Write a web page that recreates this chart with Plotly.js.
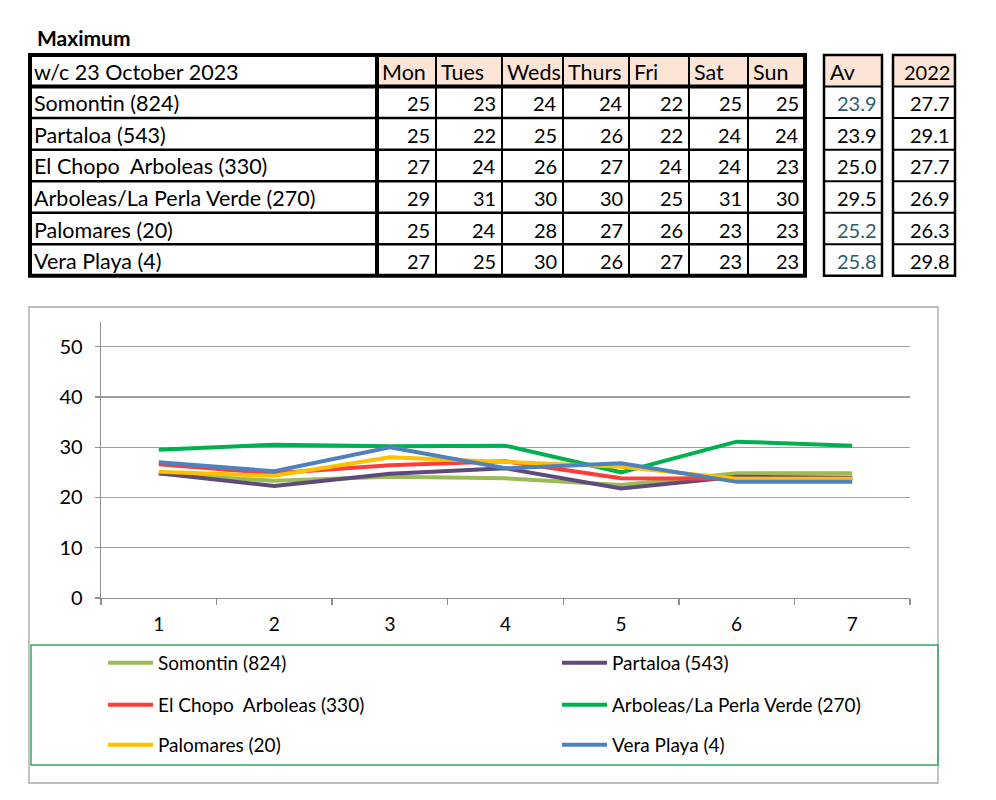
<!DOCTYPE html>
<html>
<head>
<meta charset="utf-8">
<script src="https://cdn.plot.ly/plotly-3.0.1.min.js"></script>
<style>html,body{margin:0;padding:0;background:#fff}#chart{width:996px;height:800px}</style>
</head>
<body>
<div id="chart"></div>
<script>
// ---------------- data ----------------
const tableTitle = 'Maximum';
const weekLabel = 'w/c 23 October 2023';
const days = ['Mon', 'Tues', 'Weds', 'Thurs', 'Fri', 'Sat', 'Sun'];
const stations = ['Somontin (824)', 'Partaloa (543)', 'El Chopo\u00A0 Arboleas (330)',
  'Arboleas/La Perla Verde (270)', 'Palomares (20)', 'Vera Playa (4)'];
const somontinDaily = [25, 23, 24, 24, 22, 25, 25];
const partaloaDaily = [25, 22, 25, 26, 22, 24, 24];
const elChopoDaily = [27, 24, 26, 27, 24, 24, 23];
const arboleasDaily = [29, 31, 30, 30, 25, 31, 30];
const palomaresDaily = [25, 24, 28, 27, 26, 23, 23];
const veraPlayaDaily = [27, 25, 30, 26, 27, 23, 23];
const avHeader = 'Av';
const averages = [23.9, 23.9, 25.0, 29.5, 25.2, 25.8];
const lastYearHeader = '2022';
const lastYear = [27.7, 29.1, 27.7, 26.9, 26.3, 29.8];

const chartDays = [1, 2, 3, 4, 5, 6, 7];
const yTicks = [0, 10, 20, 30, 40, 50];
const somontinLine = [24.7, 23.3, 24.1, 23.8, 22.5, 24.8, 24.8];
const partaloaLine = [24.8, 22.3, 24.7, 25.8, 21.8, 24.1, 23.9];
const elChopoLine = [26.6, 24.8, 26.4, 27.2, 23.8, 23.8, 23.7];
const arboleasLine = [29.5, 30.5, 30.2, 30.3, 25.0, 31.1, 30.3];
const palomaresLine = [25.1, 24.3, 28.0, 27.1, 26.1, 23.7, 23.7];
const veraPlayaLine = [27.0, 25.2, 30.0, 25.8, 26.8, 23.1, 23.1];

// ---------------- styling ----------------
const W = 996, H = 800;
const X = p => p / W;
const Y = p => 1 - p / H;
const FONT = 'Lato, Carlito, Calibri, sans-serif';
const PEACH = '#FCE4D6';
const avColors = ['#2F5D6B', '#000', '#000', '#000', '#2F5D6B', '#2F5D6B'];
const lineColors = ['#9BBB59', '#5F4B7B', '#FF3B3B', '#00B050', '#FFC000', '#4F81BD'];
const TXT = 21.5, NUM = 20;

const dailyRows = [somontinDaily, partaloaDaily, elChopoDaily, arboleasDaily, palomaresDaily, veraPlayaDaily];
const lineSeries = [somontinLine, partaloaLine, elChopoLine, arboleasLine, palomaresLine, veraPlayaLine];

// table geometry (pixels)
const colEdges = [30, 377, 436, 502, 563, 629, 689, 748, 805];
const avEdges = [824, 882];
const lyEdges = [893, 955];
const rowTop = 55, rowH = 31.55;
const rowEdge = i => rowTop + i * rowH;
const nRows = stations.length + 1;

const shapes = [];
const annotations = [];
function rect(x0, y0, x1, y1, opts) {
  shapes.push(Object.assign({type: 'rect', xref: 'paper', yref: 'paper',
    x0: X(x0), x1: X(x1), y0: Y(y0), y1: Y(y1)}, opts));
}
function line(x0, y0, x1, y1, w, c) {
  shapes.push({type: 'line', xref: 'paper', yref: 'paper', x0: X(x0), x1: X(x1), y0: Y(y0), y1: Y(y1),
    line: {color: c || '#000', width: w}});
}
function text(t, x, y, anchor, size, color) {
  annotations.push({xref: 'paper', yref: 'paper', x: X(x), y: Y(y), text: t,
    xanchor: anchor, yanchor: 'middle', showarrow: false,
    font: {family: FONT, size: size, color: color || '#000'}});
}

// header fills
rect(colEdges[1], rowEdge(0), colEdges[8], rowEdge(1), {fillcolor: PEACH, line: {width: 0}});
rect(avEdges[0], rowEdge(0), avEdges[1], rowEdge(1), {fillcolor: PEACH, line: {width: 0}});
rect(lyEdges[0], rowEdge(0), lyEdges[1], rowEdge(1), {fillcolor: PEACH, line: {width: 0}});

// main table grid
for (let i = 2; i < nRows; i++) line(colEdges[0], rowEdge(i), colEdges[8], rowEdge(i), 2.5);
for (let j = 2; j < colEdges.length - 1; j++) line(colEdges[j], rowEdge(0), colEdges[j], rowEdge(nRows), 2);
line(colEdges[0], rowEdge(1), colEdges[8], rowEdge(1), 4);
line(colEdges[1], rowEdge(0), colEdges[1], rowEdge(nRows), 4);
rect(colEdges[0], rowEdge(0), colEdges[8], rowEdge(nRows), {line: {color: '#000', width: 4}});

// side boxes
[avEdges, lyEdges].forEach(e => {
  for (let i = 1; i < nRows; i++) line(e[0], rowEdge(i), e[1], rowEdge(i), 2);
  rect(e[0], rowEdge(0), e[1], rowEdge(nRows), {line: {color: '#000', width: 2.5}});
});

// table text
text('<b>' + tableTitle + '</b>', 35, 38, 'left', 21);
const mid = i => rowEdge(i) + rowH / 2 + 1;
text(weekLabel, colEdges[0] + 2, mid(0), 'left', TXT);
days.forEach((d, j) => text(d, colEdges[j + 1] + 3, mid(0), 'left', TXT));
text(avHeader, avEdges[0] + 4, mid(0), 'left', TXT);
text(lastYearHeader, lyEdges[1] - 3, mid(0), 'right', NUM);
stations.forEach((s, i) => {
  text(s, colEdges[0] + 2, mid(i + 1), 'left', TXT);
  dailyRows[i].forEach((v, j) => text(String(v), colEdges[j + 2] - 4, mid(i + 1), 'right', NUM));
  text(averages[i].toFixed(1), avEdges[1] - 3, mid(i + 1), 'right', NUM, avColors[i]);
  text(lastYear[i].toFixed(1), lyEdges[1] - 3, mid(i + 1), 'right', NUM);
});

// chart frame and legend box
rect(29, 307, 938, 783, {line: {color: '#A6A6A6', width: 1.3}, layer: 'below'});
rect(31, 645, 938, 765, {line: {color: '#3AA564', width: 1.5}});

// traces, one legend per entry laid out as a 2-column grid
const legendIds = ['legend', 'legend2', 'legend3', 'legend4', 'legend5', 'legend6'];
const legendCols = [103, 557];
const legendRows = [663, 705, 745];
const traces = lineSeries.map((vals, i) => ({
  type: 'scatter', mode: 'lines', x: chartDays, y: vals, name: stations[i],
  line: {color: lineColors[i], width: 4}, legend: legendIds[i], hoverinfo: 'skip'
}));

function legendAt(px, py) {
  return {orientation: 'v', x: X(px), xanchor: 'left', y: Y(py), yanchor: 'middle',
    itemwidth: 45, bgcolor: 'rgba(0,0,0,0)', borderwidth: 0,
    font: {family: FONT, size: 19, color: '#000'}};
}

const layout = {
  width: W, height: H, margin: {l: 0, r: 0, t: 0, b: 0},
  paper_bgcolor: '#fff', plot_bgcolor: '#fff', showlegend: true,
  xaxis: {domain: [X(101), X(910)], range: [0.5, 7.5], tickvals: chartDays, ticktext: chartDays.map(String),
    ticks: '', showgrid: false, zeroline: false, showline: true, linecolor: '#8F8F8F', linewidth: 1.3,
    minor: {tick0: 0.5, dtick: 1, ticks: 'outside', ticklen: 6, tickcolor: '#8F8F8F', tickwidth: 1.3, showgrid: false},
    tickfont: {family: FONT, size: 19, color: '#000'}, ticklabelstandoff: 9, fixedrange: true},
  yaxis: {domain: [Y(598), Y(321.5)], range: [0, 55], tickvals: yTicks, ticktext: yTicks.map(String),
    ticks: 'outside', ticklen: 5, tickcolor: '#8F8F8F', tickwidth: 1.3,
    showgrid: true, gridcolor: '#A0A0A0', gridwidth: 1.3, zeroline: false,
    showline: true, linecolor: '#8F8F8F', linewidth: 1.3,
    tickfont: {family: FONT, size: 20, color: '#000'}, ticklabelstandoff: 8, fixedrange: true},
  shapes: shapes, annotations: annotations
};
legendIds.forEach((id, i) => {
  layout[id] = legendAt(legendCols[i % 2], legendRows[Math.floor(i / 2)]);
});

Plotly.newPlot('chart', traces, layout, {displayModeBar: false, staticPlot: true});
</script>
</body>
</html>
